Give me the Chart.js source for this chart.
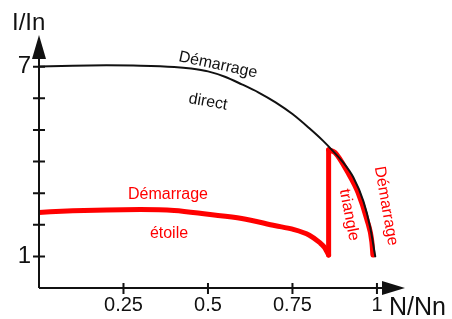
<!DOCTYPE html>
<html>
<head>
<meta charset="utf-8">
<script src="https://cdn.jsdelivr.net/npm/chart.js@4/dist/chart.umd.min.js"></script>
<style>
  body { margin: 0; background: #fff; }
  #wrap { position: relative; width: 452px; height: 319px; }
</style>
</head>
<body>
<div id="wrap"><canvas id="chart"></canvas></div>
<script>
const directN = [0, 0.1, 0.2, 0.3, 0.4, 0.45, 0.5, 0.55, 0.6, 0.65, 0.7, 0.75, 0.8, 0.84, 0.87, 0.9, 0.93, 0.96, 0.98, 0.995];
const directI = [7.0, 7.03, 7.04, 7.03, 6.99, 6.94, 6.85, 6.68, 6.44, 6.18, 5.87, 5.5, 5.05, 4.66, 4.33, 3.97, 3.5, 2.74, 1.92, 1.0];

const starN = [0, 0.1, 0.2, 0.3, 0.4, 0.5, 0.6, 0.7, 0.75, 0.8, 0.83, 0.845, 0.857];
const starI = [2.39, 2.44, 2.47, 2.48, 2.45, 2.33, 2.2, 1.97, 1.86, 1.67, 1.44, 1.28, 1.04];

const jumpN = [0.857, 0.857];
const jumpI = [1.04, 4.37];

const triN = [0.857, 0.876, 0.914, 0.944, 0.97, 0.985, 0.988];
const triI = [4.37, 4.28, 3.65, 3.02, 2.17, 1.45, 1.04];

const xTicks = [0.25, 0.5, 0.75, 1];
const yTicks = [1, 2, 3, 4, 5, 6, 7];
const yLabels = { 1: '1', 7: '7' };

const pts = (xs, ys) => xs.map((x, i) => ({ x, y: ys[i] }));

const FONT = '"Liberation Sans", Arial, sans-serif';
const INK = '#111';
const RED = '#ff0000';

// axes with arrows, crossing tick marks, and the curve labels
const decor = {
  id: 'decor',
  afterDatasetsDraw(chart) {
    const { ctx, scales: { x, y } } = chart;
    const x0 = x.getPixelForValue(0);
    const y0 = y.getPixelForValue(0);
    const xEnd = x.getPixelForValue(x.max);
    const yEnd = y.getPixelForValue(y.max);
    ctx.save();
    ctx.strokeStyle = INK;
    ctx.fillStyle = INK;
    ctx.lineWidth = 2;
    ctx.beginPath();
    ctx.moveTo(x0, y0);
    ctx.lineTo(x0, yEnd + 10);
    ctx.moveTo(x0, y0);
    ctx.lineTo(xEnd - 10, y0);
    ctx.stroke();
    // arrow heads
    ctx.beginPath();
    ctx.moveTo(x0, yEnd);
    ctx.lineTo(x0 - 7, yEnd + 24);
    ctx.lineTo(x0 + 7, yEnd + 24);
    ctx.closePath();
    ctx.fill();
    ctx.beginPath();
    ctx.moveTo(xEnd, y0);
    ctx.lineTo(xEnd - 23, y0 - 7);
    ctx.lineTo(xEnd - 23, y0 + 7);
    ctx.closePath();
    ctx.fill();
    // tick marks
    ctx.beginPath();
    yTicks.forEach(v => {
      const p = y.getPixelForValue(v);
      ctx.moveTo(x0 - 6, p);
      ctx.lineTo(x0 + 6, p);
    });
    xTicks.forEach(v => {
      const p = x.getPixelForValue(v);
      ctx.moveTo(p, y0 - 5);
      ctx.lineTo(p, y0 + 6);
    });
    ctx.stroke();

    // axis names
    ctx.textAlign = 'left';
    ctx.textBaseline = 'alphabetic';
    ctx.font = '24px ' + FONT;
    ctx.fillText('I/In', 12, 30);
    ctx.font = '25px ' + FONT;
    ctx.fillText('N/Nn', xEnd - 16, 315);

    const label = (txt, cx, cy, deg, color) => {
      ctx.save();
      ctx.translate(cx, cy);
      ctx.rotate(deg * Math.PI / 180);
      ctx.fillStyle = color;
      ctx.font = '16px ' + FONT;
      ctx.textAlign = 'center';
      ctx.textBaseline = 'middle';
      ctx.fillText(txt, 0, 0);
      ctx.restore();
    };
    label('Démarrage', 218, 65, 12, INK);
    label('direct', 208, 102, 10, INK);
    label('Démarrage', 168, 195, 0, RED);
    label('étoile', 169, 234, 0, RED);
    label('triangle', 349, 215, 79, RED);
    label('Démarrage', 386, 206, 80, RED);
    ctx.restore();
  }
};

new Chart(document.getElementById('chart'), {
  type: 'scatter',
  data: {
    datasets: [
      { label: 'Démarrage direct', data: pts(directN, directI), borderColor: INK, borderWidth: 2 },
      { label: 'Démarrage étoile', data: pts(starN, starI), borderColor: RED, borderWidth: 5 },
      { label: 'saut', data: pts(jumpN, jumpI), borderColor: RED, borderWidth: 5 },
      { label: 'Démarrage triangle', data: pts(triN, triI), borderColor: RED, borderWidth: 5 }
    ].map(d => Object.assign(d, {
      showLine: true, pointRadius: 0, fill: false, cubicInterpolationMode: 'monotone',
      borderCapStyle: 'round', borderJoinStyle: 'round'
    }))
  },
  options: {
    responsive: true,
    maintainAspectRatio: false,
    animation: false,
    layout: { padding: { top: 35, right: 47, left: 0, bottom: 0 } },
    plugins: { legend: { display: false }, tooltip: { enabled: false } },
    scales: {
      x: {
        type: 'linear', min: 0, max: 1.083,
        afterBuildTicks: s => { s.ticks = xTicks.map(v => ({ value: v })); },
        afterFit: s => { s.height = 31; },
        grid: { display: false, drawTicks: false },
        border: { display: false },
        ticks: { color: INK, padding: 5, maxRotation: 0, font: { family: FONT, size: 20 }, callback: v => String(v) }
      },
      y: {
        min: 0, max: 8,
        afterBuildTicks: s => { s.ticks = yTicks.map(v => ({ value: v })); },
        afterFit: s => { s.width = 39; },
        grid: { display: false, drawTicks: false },
        border: { display: false },
        ticks: { color: INK, padding: 8, font: { family: FONT, size: 24 }, callback: v => yLabels[v] || '' }
      }
    }
  },
  plugins: [decor]
});
</script>
</body>
</html>
